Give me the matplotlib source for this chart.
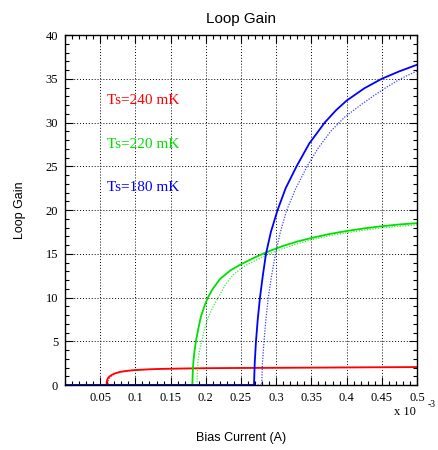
"""
Loop gain vs bias current for three bath temperatures.
"""

import matplotlib
matplotlib.use('Agg')
import matplotlib.pyplot as plt
from matplotlib.ticker import MultipleLocator

serif = 'Liberation Serif'
sans = 'Liberation Sans'

# ── Data (bias current in units of 1e-3 A) ───────────────────────────────────
red_x = [0.0, 0.059, 0.0592, 0.0597, 0.0605, 0.0616, 0.0635, 0.0663, 0.07, 0.078,
         0.088, 0.0994, 0.115, 0.135, 0.16, 0.2, 0.25, 0.3, 0.35, 0.4, 0.45, 0.5]
red_y = [0.0, 0.0, 0.3, 0.5, 0.7, 0.85, 1.0, 1.15, 1.3, 1.5,
         1.62, 1.71, 1.78, 1.84, 1.88, 1.92, 1.95, 1.97, 1.99, 2.01, 2.03, 2.05]
red_dot_x = [0.0, 0.061, 0.0612, 0.0617, 0.0625, 0.0636, 0.0655, 0.0683, 0.072,
             0.080, 0.090, 0.101, 0.117, 0.137, 0.162, 0.2, 0.25, 0.3, 0.35, 0.4,
             0.45, 0.5]
red_dot_y = [0.0, 0.0, 0.3, 0.5, 0.7, 0.85, 1.0, 1.15, 1.3,
             1.5, 1.61, 1.70, 1.77, 1.83, 1.87, 1.91, 1.94, 1.96, 1.98, 2.0,
             2.02, 2.04]

green_x = [0.0, 0.1809, 0.1815, 0.1825, 0.184, 0.186, 0.189, 0.193, 0.198, 0.203,
           0.21, 0.22, 0.235, 0.25, 0.27, 0.29, 0.31, 0.33, 0.35, 0.375, 0.40,
           0.425, 0.45, 0.475, 0.5]
green_y = [0.0, 0.0, 1.5, 2.8, 3.9, 5.0, 6.3, 7.8, 9.0, 10.0,
           11.0, 12.1, 13.1, 13.8, 14.6, 15.3, 15.9, 16.4, 16.8, 17.25, 17.6,
           17.9, 18.15, 18.35, 18.5]
green_dot_x = [0.0, 0.1875, 0.188, 0.189, 0.191, 0.194, 0.198, 0.203, 0.21, 0.2178,
               0.228, 0.239, 0.255, 0.275, 0.29, 0.31, 0.33, 0.35, 0.375, 0.40,
               0.425, 0.45, 0.475, 0.5]
green_dot_y = [0.0, 0.0, 1.5, 2.8, 3.9, 5.0, 6.3, 7.6, 8.9, 10.0,
               11.5, 12.6, 13.6, 14.4, 15.0, 15.6, 16.15, 16.6, 17.05, 17.4,
               17.7, 17.95, 18.15, 18.3]

blue_x = [0.0, 0.2685, 0.2695, 0.2713, 0.2738, 0.277, 0.281, 0.2855, 0.2925,
          0.302, 0.3135, 0.329, 0.347, 0.369, 0.385, 0.40, 0.425, 0.45, 0.475, 0.5]
blue_y = [0.0, 0.0, 2.5, 5.0, 7.5, 10.0, 12.5, 15.0, 17.5,
          20.0, 22.5, 25.0, 27.6, 30.0, 31.4, 32.5, 33.9, 35.0, 35.85, 36.6]
blue_dot_x = [0.0, 0.2794, 0.2805, 0.2827, 0.2854, 0.2888, 0.2935, 0.299, 0.306,
              0.315, 0.328, 0.344, 0.359, 0.3775, 0.397, 0.42, 0.4375, 0.456,
              0.477, 0.5]
blue_dot_y = [0.0, 0.0, 2.5, 5.0, 7.5, 10.0, 12.5, 15.0, 17.5,
              20.0, 22.5, 25.0, 27.0, 29.0, 30.6, 32.0, 33.0, 34.0,
              35.0, 35.9]

x_ticks = [0.05, 0.1, 0.15, 0.2, 0.25, 0.3, 0.35, 0.4, 0.45, 0.5]
x_ticklabels = ['0.05', '0.1', '0.15', '0.2', '0.25', '0.3', '0.35', '0.4', '0.45', '0.5']
y_ticks = [0, 5, 10, 15, 20, 25, 30, 35, 40]

labels = ['Ts=240 mK', 'Ts=220 mK', 'Ts=180 mK']
label_y = [32.5, 27.5, 22.6]
colors = ['#ff0000', '#00e000', '#0000ff']

# ── Plot ──────────────────────────────────────────────────────────────────────
fig = plt.figure(figsize=(4.38, 4.5), dpi=100)
ax = fig.add_axes([0.1484, 0.1444, 0.8036, 0.7778])

series = [(red_x, red_y, red_dot_x, red_dot_y),
          (green_x, green_y, green_dot_x, green_dot_y),
          (blue_x, blue_y, blue_dot_x, blue_dot_y)]
for (sx, sy, dx, dy), c in zip(series, colors):
    ax.plot(dx, dy, color=c, lw=0.9, ls=(0, (1, 1.2)), alpha=0.75)
    ax.plot(sx, sy, color=c, lw=1.3)

for text, ty, c in zip(labels, label_y, colors):
    ax.text(0.0597, ty, text, color=c, fontsize=11, family=serif,
            va='center', ha='left')

ax.set_xlim(0, 0.5)
ax.set_ylim(0, 40)
ax.set_xticks(x_ticks)
ax.set_xticklabels(x_ticklabels)
ax.set_yticks(y_ticks)
ax.xaxis.set_minor_locator(MultipleLocator(0.01))
ax.yaxis.set_minor_locator(MultipleLocator(1))
ax.tick_params(which='both', direction='in', top=True, right=True,
               labelsize=9, width=0.8)
ax.tick_params(which='major', length=6, pad=5)
ax.tick_params(which='minor', length=3)
for lab in ax.get_xticklabels() + ax.get_yticklabels():
    lab.set_family(serif)
ax.grid(True, which='major', color='black', ls=(0, (1, 2)), lw=0.7)
for sp in ax.spines.values():
    sp.set_linewidth(1.0)

ax.set_title('Loop Gain', family=sans, fontsize=11, pad=9)
ax.set_ylabel('Loop Gain', family=sans, fontsize=9, labelpad=14)
ax.set_xlabel('Bias Current (A)', family=sans, fontsize=9, labelpad=20)
ax.text(0.997, -0.078, 'x 10', transform=ax.transAxes, family=serif,
        fontsize=9, ha='right', va='center')
ax.text(1.03, -0.055, '-3', transform=ax.transAxes, family=serif,
        fontsize=7, ha='left', va='center')

fig.savefig('out.png', dpi=100)
